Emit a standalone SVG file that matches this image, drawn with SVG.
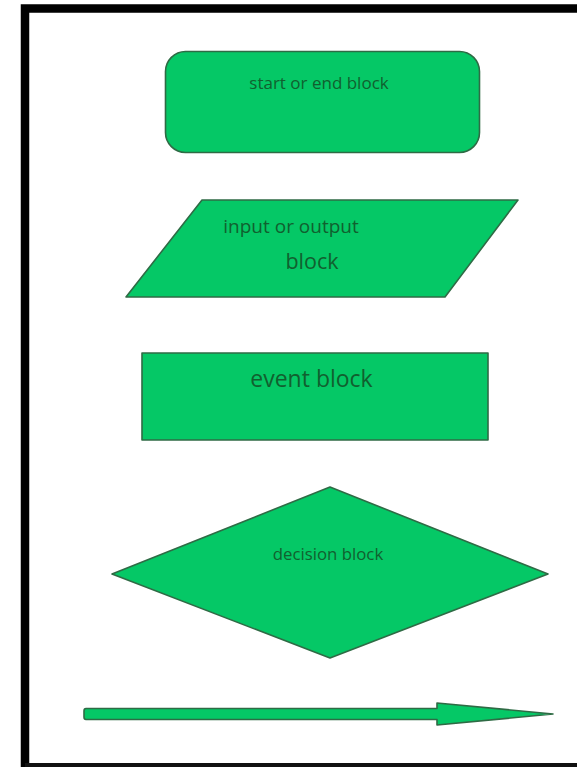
<svg xmlns="http://www.w3.org/2000/svg" width="577" height="767" viewBox="0 0 577 767">
<style>
.shape{fill:#05c866;stroke:#2f6b45;stroke-width:1.6;stroke-linejoin:round}
.lbl{font-family:"Open Sans","Liberation Sans",sans-serif;fill:#11602f;text-anchor:middle}
</style>
<rect x="0" y="0" width="577" height="767" fill="#ffffff"/>
<g id="frame">
<path d="M25 767 V8.5 H577" fill="none" stroke="#000" stroke-width="8.5"/>
<line x1="25" y1="765" x2="577" y2="765" stroke="#111" stroke-width="4"/>
</g>
<g id="start-end">
<rect class="shape" x="165.5" y="51.5" width="314" height="101" rx="20"/>
<text class="lbl" x="319" y="89" font-size="17">start or end block</text>
</g>
<g id="input-output">
<polygon class="shape" points="202,200 518,200 445,297 126,297"/>
<text class="lbl" x="291" y="233" font-size="19">input or output</text>
<text class="lbl" x="312" y="269" font-size="21.5">block</text>
</g>
<g id="event">
<rect class="shape" x="142" y="353" width="346" height="87"/>
<text class="lbl" x="311.5" y="387" font-size="23">event block</text>
</g>
<g id="decision">
<polygon class="shape" points="330,487 548,574 330,658 112,574"/>
<text class="lbl" x="328" y="560" font-size="16.8">decision block</text>
</g>
<g id="connectors">
<path class="shape" d="M86,708.5 H437 V703 L553,714 L437,725 V719.5 H86 Q84,719.5 84,717 V711 Q84,708.5 86,708.5 Z"/>
</g>
</svg>
